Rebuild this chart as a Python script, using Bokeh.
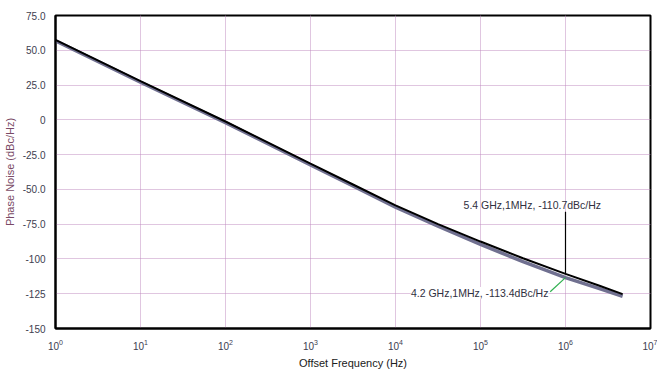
from bokeh.plotting import figure
from bokeh.models import Label, FixedTicker, Range1d, ColumnDataSource
from bokeh.embed import file_html
from bokeh.resources import INLINE

# ---- data ----
freq = [1, 10, 100, 1e3, 10**3.5, 1e4, 10**4.5, 1e5, 10**5.5, 1e6, 10**6.4, 4.7e6]
pn_54 = [57.5, 27.8, -1.2, -31.5, -46.5, -61.5, -75.0, -87.5, -99.5, -110.7, -119.3, -125.3]
pn_42 = [56.8, 27.0, -2.0, -32.5, -47.5, -62.8, -76.5, -89.5, -102.0, -113.4, -121.3, -126.8]

y_ticks = [75, 50, 25, 0, -25, -50, -75, -100, -125, -150]
y_labels = ["75.0", "50.0", "25.0", "0", "-25.0", "-50.0", "-75.0", "-100", "-125", "-150"]
x_ticks = [1, 10, 100, 1e3, 1e4, 1e5, 1e6, 1e7]

note_54 = "5.4 GHz,1MHz, -110.7dBc/Hz"
note_42 = "4.2 GHz,1MHz, -113.4dBc/Hz"
marker_f = 1e6

FONT = "Liberation Sans"

p = figure(width=657, height=371, x_axis_type="log",
           x_range=Range1d(1, 1e7), y_range=Range1d(-150, 75),
           output_backend="svg", toolbar_location=None,
           min_border_left=50, min_border_right=7, min_border_top=15, min_border_bottom=42)

p.outline_line_color = "black"
p.outline_line_width = 2
p.background_fill_color = "white"
p.border_fill_color = "white"

# grid
for g in (p.xgrid, p.ygrid):
    g.grid_line_color = "#c08cc0"
    g.grid_line_dash = "1 1"
    g.grid_line_width = 1
p.xgrid.ticker = FixedTicker(ticks=x_ticks)
p.ygrid.ticker = FixedTicker(ticks=y_ticks)

# axes
p.yaxis.ticker = FixedTicker(ticks=y_ticks)
p.yaxis.major_label_overrides = {t: l for t, l in zip(y_ticks, y_labels)}
p.xaxis.ticker = FixedTicker(ticks=x_ticks)
for ax in (p.xaxis, p.yaxis):
    ax.axis_line_color = "black"
    ax.axis_line_width = 2
    ax.major_tick_line_color = None
    ax.minor_tick_line_color = None
    ax.major_label_text_font = FONT
    ax.major_label_text_font_size = "10px"
    ax.major_label_text_color = "#404050"
    ax.axis_label_text_font = FONT
    ax.axis_label_text_font_style = "normal"
    ax.axis_label_text_font_size = "11px"
p.yaxis.major_label_standoff = 4
p.xaxis.major_label_standoff = 4
p.yaxis.axis_label = "Phase Noise (dBc/Hz)"
p.yaxis.axis_label_text_color = "#7a4a66"
p.yaxis.axis_label_standoff = 4
p.xaxis.axis_label = "Offset Frequency (Hz)"
p.xaxis.axis_label_text_color = "#202020"
p.xaxis.axis_label_standoff = 4

# curves
p.line(freq, pn_42, line_color="#707090", line_width=3.5)
p.line(freq, pn_54, line_color="black", line_width=2)

# annotations
idx = freq.index(marker_f)
src = ColumnDataSource(dict(x0=[marker_f, 10**5.82], y0=[-66.0, -123.6],
                            x1=[marker_f, marker_f], y1=[pn_54[idx], pn_42[idx]],
                            c=["black", "#30b050"]))
p.segment(x0="x0", y0="y0", x1="x1", y1="y1", line_color="c", line_width=1.2, source=src)

p.add_layout(Label(x=10**5.61, y=-61.5, text=note_54, text_align="center", text_baseline="middle",
                   text_font=FONT, text_font_size="10.5px", text_color="#303040"))
p.add_layout(Label(x=10**4.99, y=-124.5, text=note_42, text_align="center", text_baseline="middle",
                   text_font=FONT, text_font_size="10.5px", text_color="#303040",
                   background_fill_color="white"))

open("out.html", "w").write(file_html(p, INLINE))
